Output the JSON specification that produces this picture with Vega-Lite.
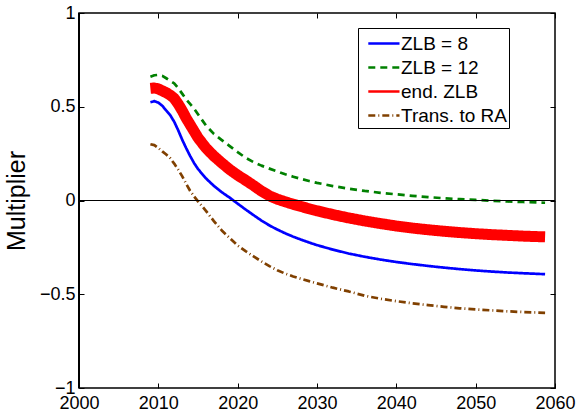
{
  "$schema": "https://vega.github.io/schema/vega-lite/v6.json",
  "width": 476,
  "height": 375,
  "autosize": {"type": "none"},
  "padding": {"left": 79, "top": 13, "right": 24, "bottom": 25},
  "background": "white",
  "config": {
    "view": {"stroke": "black", "strokeWidth": 1.5},
    "font": "Liberation Sans",
    "axis": {
      "grid": false,
      "domain": false,
      "tickColor": "black",
      "tickSize": -5,
      "tickWidth": 1,
      "labelColor": "black",
      "labelFont": "Liberation Sans",
      "labelFontSize": 18,
      "titleColor": "black",
      "titleFont": "Liberation Sans",
      "titleFontWeight": "normal"
    },
    "legend": {
      "orient": "none", "legendX": 279, "legendY": 15, "title": null,
      "strokeColor": "black", "fillColor": "white", "padding": 2,
      "symbolType": "M-1.6,0L1,0", "symbolSize": 576, "symbolStrokeWidth": 2.6, "symbolOffset": 14,
      "labelFontSize": 19, "labelColor": "black", "labelOffset": 0, "labelFont": "Liberation Sans",
      "rowPadding": -2.5, "cornerRadius": 0, "labelLimit": 300
    }
  },
  "data": {
    "values": [
      {"year": 2009, "series": "ZLB = 8", "value": 0.524},
      {"year": 2009.5, "series": "ZLB = 8", "value": 0.53},
      {"year": 2010, "series": "ZLB = 8", "value": 0.522},
      {"year": 2010.5, "series": "ZLB = 8", "value": 0.505},
      {"year": 2011, "series": "ZLB = 8", "value": 0.48},
      {"year": 2011.5, "series": "ZLB = 8", "value": 0.455},
      {"year": 2012, "series": "ZLB = 8", "value": 0.42},
      {"year": 2012.5, "series": "ZLB = 8", "value": 0.375},
      {"year": 2013, "series": "ZLB = 8", "value": 0.325},
      {"year": 2013.5, "series": "ZLB = 8", "value": 0.28},
      {"year": 2014, "series": "ZLB = 8", "value": 0.238},
      {"year": 2014.5, "series": "ZLB = 8", "value": 0.2},
      {"year": 2015, "series": "ZLB = 8", "value": 0.168},
      {"year": 2016, "series": "ZLB = 8", "value": 0.118},
      {"year": 2017, "series": "ZLB = 8", "value": 0.078},
      {"year": 2018, "series": "ZLB = 8", "value": 0.044},
      {"year": 2019, "series": "ZLB = 8", "value": 0.015},
      {"year": 2020, "series": "ZLB = 8", "value": -0.017},
      {"year": 2021, "series": "ZLB = 8", "value": -0.048},
      {"year": 2022, "series": "ZLB = 8", "value": -0.078},
      {"year": 2023, "series": "ZLB = 8", "value": -0.107},
      {"year": 2024, "series": "ZLB = 8", "value": -0.133},
      {"year": 2025, "series": "ZLB = 8", "value": -0.155},
      {"year": 2026, "series": "ZLB = 8", "value": -0.175},
      {"year": 2027, "series": "ZLB = 8", "value": -0.193},
      {"year": 2028, "series": "ZLB = 8", "value": -0.209},
      {"year": 2029, "series": "ZLB = 8", "value": -0.224},
      {"year": 2030, "series": "ZLB = 8", "value": -0.238},
      {"year": 2032, "series": "ZLB = 8", "value": -0.262},
      {"year": 2034, "series": "ZLB = 8", "value": -0.283},
      {"year": 2036, "series": "ZLB = 8", "value": -0.3},
      {"year": 2038, "series": "ZLB = 8", "value": -0.315},
      {"year": 2040, "series": "ZLB = 8", "value": -0.328},
      {"year": 2042, "series": "ZLB = 8", "value": -0.339},
      {"year": 2044, "series": "ZLB = 8", "value": -0.349},
      {"year": 2046, "series": "ZLB = 8", "value": -0.358},
      {"year": 2048, "series": "ZLB = 8", "value": -0.366},
      {"year": 2050, "series": "ZLB = 8", "value": -0.373},
      {"year": 2052, "series": "ZLB = 8", "value": -0.379},
      {"year": 2054, "series": "ZLB = 8", "value": -0.384},
      {"year": 2056, "series": "ZLB = 8", "value": -0.388},
      {"year": 2058.75, "series": "ZLB = 8", "value": -0.393},

      {"year": 2009, "series": "ZLB = 12", "value": 0.66},
      {"year": 2009.5, "series": "ZLB = 12", "value": 0.668},
      {"year": 2010, "series": "ZLB = 12", "value": 0.67},
      {"year": 2010.5, "series": "ZLB = 12", "value": 0.665},
      {"year": 2011, "series": "ZLB = 12", "value": 0.652},
      {"year": 2011.5, "series": "ZLB = 12", "value": 0.638},
      {"year": 2012, "series": "ZLB = 12", "value": 0.625},
      {"year": 2012.5, "series": "ZLB = 12", "value": 0.6},
      {"year": 2013, "series": "ZLB = 12", "value": 0.57},
      {"year": 2013.5, "series": "ZLB = 12", "value": 0.54},
      {"year": 2014, "series": "ZLB = 12", "value": 0.515},
      {"year": 2014.5, "series": "ZLB = 12", "value": 0.49},
      {"year": 2015, "series": "ZLB = 12", "value": 0.46},
      {"year": 2016, "series": "ZLB = 12", "value": 0.4},
      {"year": 2017, "series": "ZLB = 12", "value": 0.355},
      {"year": 2018, "series": "ZLB = 12", "value": 0.322},
      {"year": 2019, "series": "ZLB = 12", "value": 0.29},
      {"year": 2020, "series": "ZLB = 12", "value": 0.258},
      {"year": 2021, "series": "ZLB = 12", "value": 0.228},
      {"year": 2022, "series": "ZLB = 12", "value": 0.205},
      {"year": 2023, "series": "ZLB = 12", "value": 0.186},
      {"year": 2024, "series": "ZLB = 12", "value": 0.17},
      {"year": 2025, "series": "ZLB = 12", "value": 0.155},
      {"year": 2026, "series": "ZLB = 12", "value": 0.14},
      {"year": 2027, "series": "ZLB = 12", "value": 0.127},
      {"year": 2028, "series": "ZLB = 12", "value": 0.115},
      {"year": 2029, "series": "ZLB = 12", "value": 0.104},
      {"year": 2030, "series": "ZLB = 12", "value": 0.094},
      {"year": 2032, "series": "ZLB = 12", "value": 0.077},
      {"year": 2034, "series": "ZLB = 12", "value": 0.063},
      {"year": 2036, "series": "ZLB = 12", "value": 0.051},
      {"year": 2038, "series": "ZLB = 12", "value": 0.041},
      {"year": 2040, "series": "ZLB = 12", "value": 0.033},
      {"year": 2042, "series": "ZLB = 12", "value": 0.025},
      {"year": 2044, "series": "ZLB = 12", "value": 0.018},
      {"year": 2046, "series": "ZLB = 12", "value": 0.012},
      {"year": 2048, "series": "ZLB = 12", "value": 0.007},
      {"year": 2050, "series": "ZLB = 12", "value": 0.003},
      {"year": 2052, "series": "ZLB = 12", "value": -0.001},
      {"year": 2054, "series": "ZLB = 12", "value": -0.005},
      {"year": 2056, "series": "ZLB = 12", "value": -0.008},
      {"year": 2058.75, "series": "ZLB = 12", "value": -0.012},

      {"year": 2009, "series": "end. ZLB", "value": 0.598},
      {"year": 2009.5, "series": "end. ZLB", "value": 0.6},
      {"year": 2010, "series": "end. ZLB", "value": 0.595},
      {"year": 2010.5, "series": "end. ZLB", "value": 0.585},
      {"year": 2011, "series": "end. ZLB", "value": 0.575},
      {"year": 2011.5, "series": "end. ZLB", "value": 0.562},
      {"year": 2012, "series": "end. ZLB", "value": 0.545},
      {"year": 2012.5, "series": "end. ZLB", "value": 0.515},
      {"year": 2013, "series": "end. ZLB", "value": 0.48},
      {"year": 2013.5, "series": "end. ZLB", "value": 0.44},
      {"year": 2014, "series": "end. ZLB", "value": 0.405},
      {"year": 2014.5, "series": "end. ZLB", "value": 0.37},
      {"year": 2015, "series": "end. ZLB", "value": 0.335},
      {"year": 2016, "series": "end. ZLB", "value": 0.28},
      {"year": 2017, "series": "end. ZLB", "value": 0.237},
      {"year": 2018, "series": "end. ZLB", "value": 0.2},
      {"year": 2019, "series": "end. ZLB", "value": 0.165},
      {"year": 2020, "series": "end. ZLB", "value": 0.135},
      {"year": 2021, "series": "end. ZLB", "value": 0.108},
      {"year": 2022, "series": "end. ZLB", "value": 0.08},
      {"year": 2023, "series": "end. ZLB", "value": 0.05},
      {"year": 2024, "series": "end. ZLB", "value": 0.025},
      {"year": 2025, "series": "end. ZLB", "value": 0.007},
      {"year": 2026, "series": "end. ZLB", "value": -0.007},
      {"year": 2027, "series": "end. ZLB", "value": -0.02},
      {"year": 2028, "series": "end. ZLB", "value": -0.032},
      {"year": 2029, "series": "end. ZLB", "value": -0.044},
      {"year": 2030, "series": "end. ZLB", "value": -0.055},
      {"year": 2032, "series": "end. ZLB", "value": -0.075},
      {"year": 2034, "series": "end. ZLB", "value": -0.093},
      {"year": 2036, "series": "end. ZLB", "value": -0.109},
      {"year": 2038, "series": "end. ZLB", "value": -0.123},
      {"year": 2040, "series": "end. ZLB", "value": -0.136},
      {"year": 2042, "series": "end. ZLB", "value": -0.147},
      {"year": 2044, "series": "end. ZLB", "value": -0.156},
      {"year": 2046, "series": "end. ZLB", "value": -0.164},
      {"year": 2048, "series": "end. ZLB", "value": -0.171},
      {"year": 2050, "series": "end. ZLB", "value": -0.177},
      {"year": 2052, "series": "end. ZLB", "value": -0.182},
      {"year": 2054, "series": "end. ZLB", "value": -0.186},
      {"year": 2056, "series": "end. ZLB", "value": -0.19},
      {"year": 2058.75, "series": "end. ZLB", "value": -0.194},

      {"year": 2009, "series": "Trans. to RA", "value": 0.3},
      {"year": 2009.5, "series": "Trans. to RA", "value": 0.295},
      {"year": 2010, "series": "Trans. to RA", "value": 0.28},
      {"year": 2010.5, "series": "Trans. to RA", "value": 0.262},
      {"year": 2011, "series": "Trans. to RA", "value": 0.245},
      {"year": 2011.5, "series": "Trans. to RA", "value": 0.225},
      {"year": 2012, "series": "Trans. to RA", "value": 0.197},
      {"year": 2012.5, "series": "Trans. to RA", "value": 0.165},
      {"year": 2013, "series": "Trans. to RA", "value": 0.13},
      {"year": 2013.5, "series": "Trans. to RA", "value": 0.09},
      {"year": 2014, "series": "Trans. to RA", "value": 0.052},
      {"year": 2014.5, "series": "Trans. to RA", "value": 0.022},
      {"year": 2015, "series": "Trans. to RA", "value": -0.005},
      {"year": 2016, "series": "Trans. to RA", "value": -0.055},
      {"year": 2017, "series": "Trans. to RA", "value": -0.11},
      {"year": 2018, "series": "Trans. to RA", "value": -0.16},
      {"year": 2019, "series": "Trans. to RA", "value": -0.2},
      {"year": 2020, "series": "Trans. to RA", "value": -0.24},
      {"year": 2021, "series": "Trans. to RA", "value": -0.27},
      {"year": 2022, "series": "Trans. to RA", "value": -0.298},
      {"year": 2023, "series": "Trans. to RA", "value": -0.325},
      {"year": 2024, "series": "Trans. to RA", "value": -0.35},
      {"year": 2025, "series": "Trans. to RA", "value": -0.372},
      {"year": 2026, "series": "Trans. to RA", "value": -0.39},
      {"year": 2027, "series": "Trans. to RA", "value": -0.405},
      {"year": 2028, "series": "Trans. to RA", "value": -0.418},
      {"year": 2029, "series": "Trans. to RA", "value": -0.43},
      {"year": 2030, "series": "Trans. to RA", "value": -0.442},
      {"year": 2032, "series": "Trans. to RA", "value": -0.465},
      {"year": 2034, "series": "Trans. to RA", "value": -0.485},
      {"year": 2036, "series": "Trans. to RA", "value": -0.508},
      {"year": 2038, "series": "Trans. to RA", "value": -0.524},
      {"year": 2040, "series": "Trans. to RA", "value": -0.537},
      {"year": 2042, "series": "Trans. to RA", "value": -0.548},
      {"year": 2044, "series": "Trans. to RA", "value": -0.558},
      {"year": 2046, "series": "Trans. to RA", "value": -0.567},
      {"year": 2048, "series": "Trans. to RA", "value": -0.575},
      {"year": 2050, "series": "Trans. to RA", "value": -0.581},
      {"year": 2052, "series": "Trans. to RA", "value": -0.586},
      {"year": 2054, "series": "Trans. to RA", "value": -0.591},
      {"year": 2056, "series": "Trans. to RA", "value": -0.595},
      {"year": 2058.75, "series": "Trans. to RA", "value": -0.599}
    ]
  },
  "resolve": {"axis": {"x": "independent", "y": "independent"}},
  "layer": [
    {
      "transform": [{"filter": "datum.series !== 'end. ZLB'"}],
      "mark": {"type": "line", "strokeCap": "butt", "strokeJoin": "round", "strokeWidth": 2.7},
      "encoding": {
        "x": {
          "field": "year", "type": "quantitative",
          "scale": {"domain": [2000, 2060], "nice": false, "zero": false},
          "axis": {"orient": "bottom", "values": [2000, 2010, 2020, 2030, 2040, 2050, 2060], "format": "d", "title": null, "labelPadding": 11, "labelFlush": false}
        },
        "y": {
          "field": "value", "type": "quantitative",
          "scale": {"domain": [-1, 1], "nice": false},
          "axis": {"orient": "left", "values": [-1, -0.5, 0, 0.5, 1], "format": "~g", "title": "Multiplier", "titleFontSize": 25, "titleAngle": -90, "titleX": -63, "titleY": 187.5, "titleAlign": "center", "titleBaseline": "middle", "labelPadding": 9}
        },
        "color": {
          "field": "series", "type": "nominal", "sort": null,
          "scale": {"domain": ["ZLB = 8", "ZLB = 12", "end. ZLB", "Trans. to RA"], "range": ["#0000ff", "#008000", "#ff0000", "#804000"]},
          "legend": {"orient": "none", "legendX": 279, "legendY": 15, "title": null}
        },
        "strokeDash": {
          "field": "series", "type": "nominal", "sort": null,
          "scale": {"domain": ["ZLB = 8", "ZLB = 12", "end. ZLB", "Trans. to RA"], "range": [[1, 0], [7, 5], [1, 0], [7, 3, 1, 3]]},
          "legend": {"orient": "none", "legendX": 279, "legendY": 15, "title": null}
        }
      }
    },
    {
      "transform": [{"filter": "datum.series === 'end. ZLB'"}],
      "mark": {"type": "line", "strokeCap": "butt", "strokeJoin": "round", "strokeWidth": 11},
      "encoding": {
        "x": {
          "field": "year", "type": "quantitative",
          "scale": {"domain": [2000, 2060], "nice": false, "zero": false},
          "axis": null
        },
        "y": {
          "field": "value", "type": "quantitative",
          "scale": {"domain": [-1, 1], "nice": false},
          "axis": null
        },
        "color": {
          "field": "series", "type": "nominal", "sort": null,
          "scale": {"domain": ["ZLB = 8", "ZLB = 12", "end. ZLB", "Trans. to RA"], "range": ["#0000ff", "#008000", "#ff0000", "#804000"]},
          "legend": {"orient": "none", "legendX": 279, "legendY": 15, "title": null}
        },
        "strokeDash": {
          "field": "series", "type": "nominal", "sort": null,
          "scale": {"domain": ["ZLB = 8", "ZLB = 12", "end. ZLB", "Trans. to RA"], "range": [[1, 0], [7, 5], [1, 0], [7, 3, 1, 3]]},
          "legend": {"orient": "none", "legendX": 279, "legendY": 15, "title": null}
        }
      }
    },
    {
      "mark": {"type": "rule", "color": "black", "strokeWidth": 1},
      "encoding": {
        "y": {
          "datum": 0, "type": "quantitative",
          "scale": {"domain": [-1, 1], "nice": false},
          "axis": {"orient": "right", "values": [-1, -0.5, 0, 0.5, 1], "labels": false, "title": null}
        }
      }
    },
    {
      "mark": {"type": "rule", "color": "black", "strokeWidth": 1},
      "encoding": {
        "x": {
          "datum": 2000, "type": "quantitative",
          "scale": {"domain": [2000, 2060], "nice": false, "zero": false},
          "axis": {"orient": "top", "values": [2000, 2010, 2020, 2030, 2040, 2050, 2060], "labels": false, "title": null}
        }
      }
    }
  ]
}
